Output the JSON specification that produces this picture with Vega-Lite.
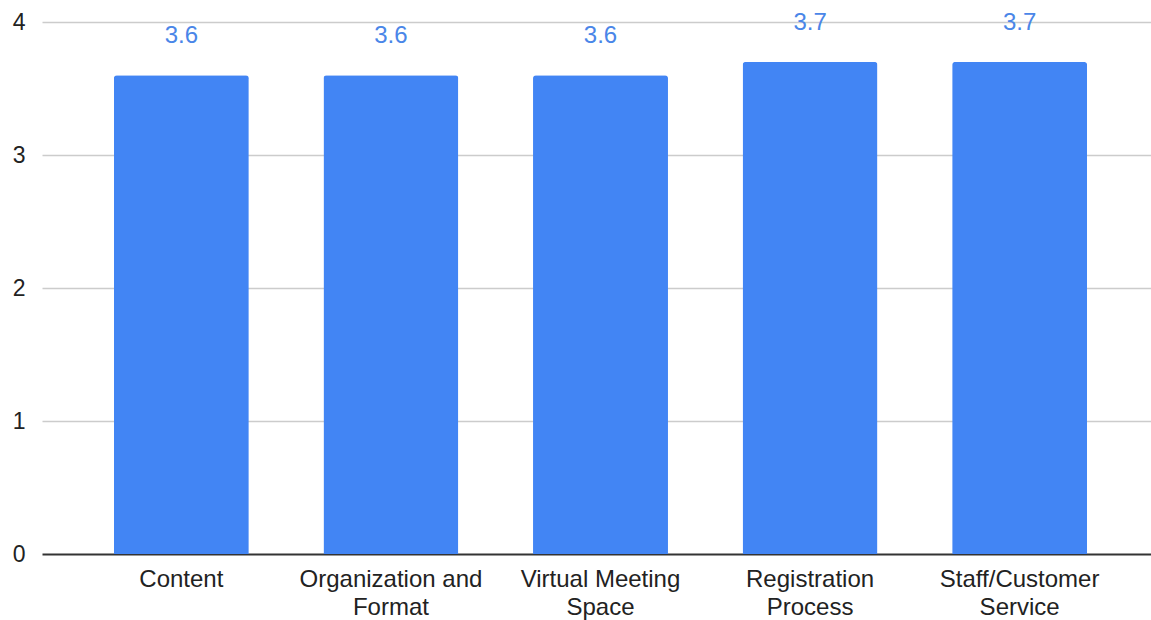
{
  "$schema": "https://vega.github.io/schema/vega-lite/v6.json",
  "autosize": {"type": "none"},
  "padding": {"left": 42, "top": 22, "right": 0, "bottom": 66},
  "width": 1117,
  "height": 532,
  "background": "#ffffff",
  "config": {
    "view": {"stroke": null},
    "font": "Liberation Sans",
    "axis": {"labelFont": "Liberation Sans", "labelColor": "#222222"}
  },
  "data": {
    "values": [
      {"category": "Content", "score": 3.6},
      {"category": "Organization and Format", "score": 3.6},
      {"category": "Virtual Meeting Space", "score": 3.6},
      {"category": "Registration Process", "score": 3.7},
      {"category": "Staff/Customer Service", "score": 3.7}
    ]
  },
  "encoding": {
    "x": {
      "field": "category",
      "type": "nominal",
      "sort": null,
      "scale": {"paddingInner": 0.356, "paddingOuter": 0.343},
      "axis": {
        "title": null,
        "domain": false,
        "ticks": false,
        "labelAngle": 0,
        "labelFontSize": 24,
        "labelLineHeight": 28,
        "labelPadding": 13,
        "labelLimit": 400,
        "labelExpr": "indexof(datum.value, ' ') < 0 ? datum.value : [substring(datum.value, 0, lastindexof(datum.value, ' ')), substring(datum.value, lastindexof(datum.value, ' ') + 1)]"
      }
    },
    "y": {
      "field": "score",
      "type": "quantitative",
      "scale": {"domain": [0, 4], "nice": false},
      "axis": {
        "title": null,
        "domain": false,
        "ticks": false,
        "values": [0, 1, 2, 3, 4],
        "labelFontSize": 23,
        "labelPadding": 17,
        "gridColor": {"condition": {"test": "datum.value === 0", "value": "#333333"}, "value": "#cccccc"},
        "gridWidth": {"condition": {"test": "datum.value === 0", "value": 2}, "value": 1.3}
      }
    }
  },
  "layer": [
    {
      "mark": {"type": "bar", "color": "#4285f4", "cornerRadiusTopLeft": 3, "cornerRadiusTopRight": 3}
    },
    {
      "mark": {"type": "text", "dy": -39, "baseline": "middle", "align": "center", "fontSize": 24, "color": "#4a86e8", "font": "Liberation Sans"},
      "encoding": {"text": {"field": "score", "type": "quantitative", "format": ".1f"}}
    }
  ]
}
